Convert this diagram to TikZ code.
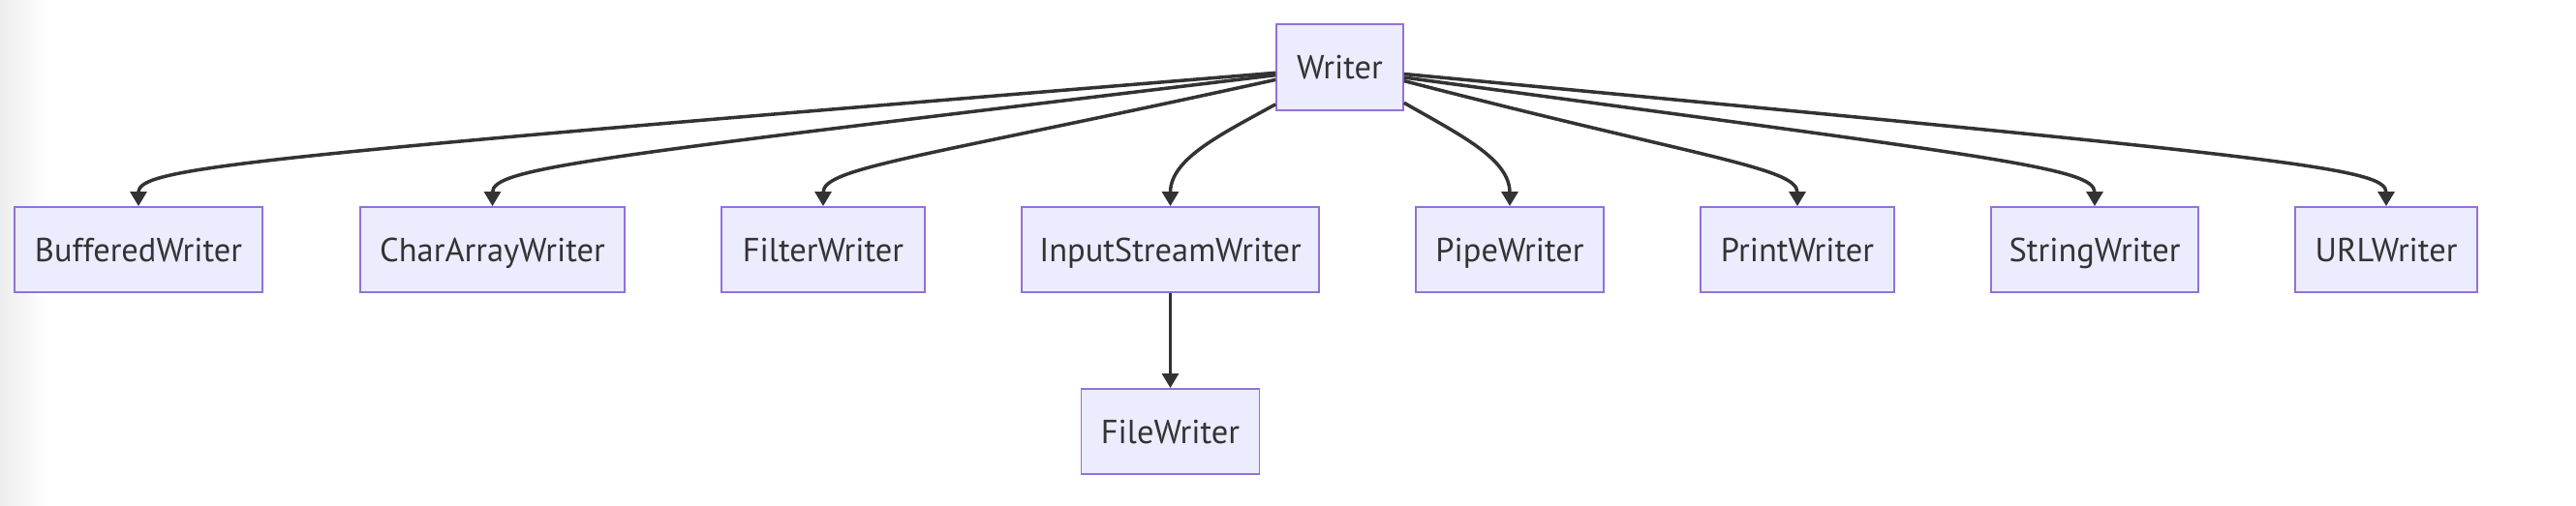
\documentclass[tikz,border=0pt]{standalone}
\usepackage{fontspec}
\setmainfont{PT Sans}
\usepackage{tikz}
\usetikzlibrary{arrows.meta,calc}
\definecolor{WriterFill}{HTML}{ECECFF}
\definecolor{WriterEdge}{HTML}{9370DB}
\definecolor{WriterInk}{HTML}{333333}

\begin{document}
\begin{tikzpicture}[font=\fontsize{19.6}{23}\selectfont,
  cls/.style={draw=WriterEdge,fill=WriterFill,line width=1pt,text=WriterInk,
    minimum height=1.76cm,inner sep=0pt,text height=18.7pt,text depth=5pt},
  link/.style={draw=WriterInk,line width=2pt,-{Triangle[length=8.5pt,width=9.5pt]}}]
  \useasboundingbox (0,0) rectangle (53.2,10.44);
  \shade[left color=black!7,right color=white] (0,0) rectangle (1,10.44);
  \node[cls,minimum width=2.62cm,minimum height=1.78cm] (writer) at (27.67,9.05) {Writer};
  \node[cls,minimum width=5.12cm] (buffered) at (2.86,5.28) {BufferedWriter};
  \node[cls,minimum width=5.46cm] (chararray) at (10.17,5.28) {CharArrayWriter};
  \node[cls,minimum width=4.2cm] (filter) at (17.0,5.28) {FilterWriter};
  \node[cls,minimum width=6.14cm] (inputstream) at (24.17,5.28) {InputStreamWriter};
  \node[cls,minimum width=3.88cm] (pipe) at (31.18,5.28) {PipeWriter};
  \node[cls,minimum width=4.0cm] (print) at (37.12,5.28) {PrintWriter};
  \node[cls,minimum width=4.28cm] (string) at (43.26,5.28) {StringWriter};
  \node[cls,minimum width=3.76cm] (url) at (49.28,5.28) {URLWriter};
  \node[cls,minimum width=3.68cm] (file) at (24.17,1.52) {FileWriter};
  \draw[link] (writer.185) .. controls ($(buffered.north)+(2.0,1.0)$) and ($(buffered.north)+(0,0.8)$) .. (buffered.north);
  \draw[link] (writer.187) .. controls ($(chararray.north)+(2.0,1.0)$) and ($(chararray.north)+(0,0.8)$) .. (chararray.north);
  \draw[link] (writer.191) .. controls ($(filter.north)+(2.0,1.0)$) and ($(filter.north)+(0,0.8)$) .. (filter.north);
  \draw[link] (writer.210) .. controls ($(inputstream.north)+(1.04,1.48)$) and ($(inputstream.north)+(0,0.98)$) .. (inputstream.north);
  \draw[link] (writer.331) .. controls ($(pipe.north)+(-1.04,1.48)$) and ($(pipe.north)+(0,0.98)$) .. (pipe.north);
  \draw[link] (writer.348) .. controls ($(print.north)+(-2.0,1.0)$) and ($(print.north)+(0,0.8)$) .. (print.north);
  \draw[link] (writer.351) .. controls ($(string.north)+(-2.0,1.0)$) and ($(string.north)+(0,0.8)$) .. (string.north);
  \draw[link] (writer.354) .. controls ($(url.north)+(-2.0,1.0)$) and ($(url.north)+(0,0.8)$) .. (url.north);
  \draw[link] (inputstream) -- (file);
\end{tikzpicture}
\end{document}
